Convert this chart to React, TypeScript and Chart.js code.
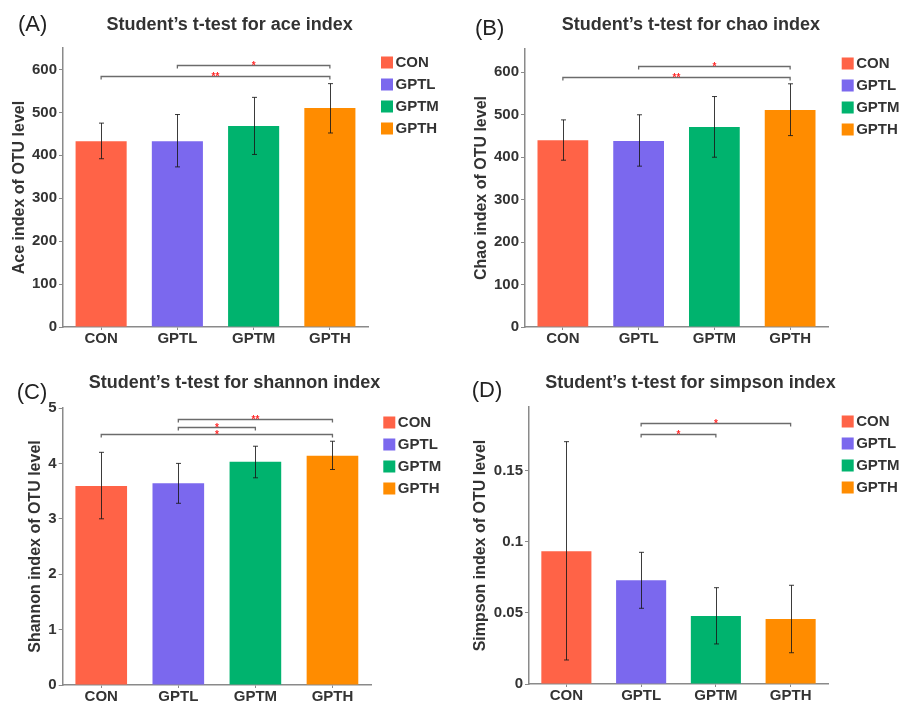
import React, { useEffect, useRef } from 'react';
import { Chart, registerables } from 'chart.js';

Chart.register(...registerables);

const FAMILY = '"Liberation Sans", Arial, Helvetica, sans-serif';
Chart.defaults.font.family = FAMILY;

// ---------- data ----------
const categories = ['CON', 'GPTL', 'GPTM', 'GPTH'];
const groupColors = ['#FF6347', '#7B68EE', '#00B36E', '#FF8C00'];

const aceMean = [433, 433, 468, 510];
const aceLow = [392, 373, 402, 452];
const aceHigh = [475, 495, 535, 567];
const aceSigFrom = ['GPTL', 'CON'];
const aceSigTo = ['GPTH', 'GPTH'];
const aceSigLevel = [610, 585];
const aceSigMark = ['*', '**'];

const chaoMean = [440, 438, 471, 511];
const chaoLow = [393, 379, 400, 451];
const chaoHigh = [488, 500, 543, 573];
const chaoSigFrom = ['GPTL', 'CON'];
const chaoSigTo = ['GPTH', 'GPTH'];
const chaoSigLevel = [616, 590];
const chaoSigMark = ['*', '**'];

const shannonMean = [3.59, 3.64, 4.03, 4.14];
const shannonLow = [3.0, 3.28, 3.74, 3.89];
const shannonHigh = [4.2, 4.0, 4.31, 4.4];
const shannonSigFrom = ['GPTL', 'GPTL', 'CON'];
const shannonSigTo = ['GPTH', 'GPTM', 'GPTH'];
const shannonSigLevel = [4.8, 4.66, 4.53];
const shannonSigMark = ['**', '*', '*'];

const simpsonMean = [0.0934, 0.073, 0.0479, 0.0458];
const simpsonLow = [0.0169, 0.0533, 0.0282, 0.022];
const simpsonHigh = [0.1706, 0.0927, 0.0678, 0.0695];
const simpsonSigFrom = ['GPTL', 'GPTL'];
const simpsonSigTo = ['GPTH', 'GPTM'];
const simpsonSigLevel = [0.1836, 0.1758];
const simpsonSigMark = ['*', '*'];

const aceTicks = { max: 650, step: 100 };
const chaoTicks = { max: 655, step: 100 };
const shannonTicks = { max: 5, step: 1 };
const simpsonTicks = { max: 0.195, step: 0.05 };

// ---------- layout (pixel targets, separate from data) ----------
type Box = {
  left: number; top: number; height: number;
  chartLeft: number; chartRight: number; chartTop: number; chartBottom: number;
  legendX: number; titleX: number; titleY: number; yTitleX: number;
  labelX: number; labelY: number;
};

type Spec = {
  title: string; yTitle: string; label: string;
  mean: number[]; low: number[]; high: number[];
  sigFrom: string[]; sigTo: string[]; sigLevel: number[]; sigMark: string[];
  ticks: { max: number; step: number };
  box: Box;
};

const panels: Spec[] = [
  {
    title: 'Student\u2019s t-test for ace index', yTitle: 'Ace index of OTU level', label: '(A)',
    mean: aceMean, low: aceLow, high: aceHigh,
    sigFrom: aceSigFrom, sigTo: aceSigTo, sigLevel: aceSigLevel, sigMark: aceSigMark,
    ticks: aceTicks,
    box: { left: 0, top: 0, height: 352, chartLeft: 63, chartRight: 368, chartTop: 48, chartBottom: 327,
      legendX: 381, titleX: 231.7, titleY: 25, yTitleX: 20, labelX: 18, labelY: 24.5 },
  },
  {
    title: 'Student\u2019s t-test for chao index', yTitle: 'Chao index of OTU level', label: '(B)',
    mean: chaoMean, low: chaoLow, high: chaoHigh,
    sigFrom: chaoSigFrom, sigTo: chaoSigTo, sigLevel: chaoSigLevel, sigMark: chaoSigMark,
    ticks: chaoTicks,
    box: { left: 451, top: 0, height: 352, chartLeft: 74, chartRight: 377, chartTop: 49, chartBottom: 327,
      legendX: 390.7, titleX: 241.5, titleY: 25, yTitleX: 30.7, labelX: 24, labelY: 29 },
  },
  {
    title: 'Student\u2019s t-test for shannon index', yTitle: 'Shannon index of OTU level', label: '(C)',
    mean: shannonMean, low: shannonLow, high: shannonHigh,
    sigFrom: shannonSigFrom, sigTo: shannonSigTo, sigLevel: shannonSigLevel, sigMark: shannonSigMark,
    ticks: shannonTicks,
    box: { left: 0, top: 352, height: 352, chartLeft: 62.7, chartRight: 371, chartTop: 56, chartBottom: 333,
      legendX: 383.3, titleX: 234.5, titleY: 31.3, yTitleX: 35.7, labelX: 16.7, labelY: 41.3 },
  },
  {
    title: 'Student\u2019s t-test for simpson index', yTitle: 'Simpson index of OTU level', label: '(D)',
    mean: simpsonMean, low: simpsonLow, high: simpsonHigh,
    sigFrom: simpsonSigFrom, sigTo: simpsonSigTo, sigLevel: simpsonSigLevel, sigMark: simpsonSigMark,
    ticks: simpsonTicks,
    box: { left: 451, top: 352, height: 352, chartLeft: 78, chartRight: 377, chartTop: 55, chartBottom: 332,
      legendX: 390.7, titleX: 241.7, titleY: 31.3, yTitleX: 30, labelX: 20.7, labelY: 38.5 },
  },
];

function makeDecor(spec: Spec) {
  return {
    id: 'decor',
    afterDatasetsDraw(chart: any) {
      const { ctx } = chart;
      const x = chart.scales.x;
      const y = chart.scales.y;
      ctx.save();
      // error bars
      ctx.strokeStyle = 'rgba(25,25,25,0.85)';
      ctx.lineWidth = 1;
      spec.low.forEach((lo, i) => {
        const px = Math.round(x.getPixelForValue(i)) + 0.5;
        const y1 = y.getPixelForValue(lo);
        const y2 = y.getPixelForValue(spec.high[i]);
        ctx.beginPath();
        ctx.moveTo(px, y1); ctx.lineTo(px, y2);
        ctx.moveTo(px - 2.5, y1); ctx.lineTo(px + 2.5, y1);
        ctx.moveTo(px - 2.5, y2); ctx.lineTo(px + 2.5, y2);
        ctx.stroke();
      });
      // significance brackets
      spec.sigLevel.forEach((lvl, k) => {
        const xa = x.getPixelForValue(categories.indexOf(spec.sigFrom[k]));
        const xb = x.getPixelForValue(categories.indexOf(spec.sigTo[k]));
        const py = Math.round(y.getPixelForValue(lvl)) + 0.5;
        ctx.strokeStyle = '#6b6b6b';
        ctx.lineWidth = 1.3;
        ctx.beginPath();
        ctx.moveTo(xa, py + 3); ctx.lineTo(xa, py); ctx.lineTo(xb, py); ctx.lineTo(xb, py + 3);
        ctx.stroke();
        ctx.fillStyle = '#FF2A2A';
        ctx.font = `bold 10px ${FAMILY}`;
        ctx.textAlign = 'center';
        ctx.textBaseline = 'alphabetic';
        ctx.fillText(spec.sigMark[k], (xa + xb) / 2, py + 3.5);
      });
      ctx.restore();
    },
    afterDraw(chart: any) {
      const { ctx } = chart;
      ctx.save();
      ctx.fillStyle = '#222';
      ctx.font = `22px ${FAMILY}`;
      ctx.textAlign = 'left';
      ctx.textBaseline = 'middle';
      ctx.fillText(spec.label, spec.box.labelX, spec.box.labelY);
      ctx.restore();
    },
  };
}

function Panel({ spec }: { spec: Spec }) {
  const ref = useRef<HTMLCanvasElement>(null);
  useEffect(() => {
    const canvas = ref.current!;
    const b = spec.box;
    const m = document.createElement('canvas').getContext('2d')!;
    m.font = `bold 15px ${FAMILY}`;
    const maxText = Math.max(...categories.map((c) => m.measureText(c).width));
    const LP = 7, BOXW = 2, SQ = 12, FS = 15;
    // legend square is drawn centred at cursor + BOXW/2 with side SQ
    const sqOffset = SQ / 2 - BOXW / 2;
    const legendW = LP + BOXW + FS / 2 + maxText + 10;
    const legendLeft = b.legendX + sqOffset - LP;
    const R = legendLeft + legendW;
    const W = Math.ceil(R) + 2;
    const H = b.height;
    const pr = W - R;
    const gapW = legendLeft - b.chartRight;
    const pl = Math.max(0, Math.min(2 * b.titleX - R, b.yTitleX - 9.6));
    const yW = b.chartLeft - pl;
    const yTitlePad = Math.max(0, b.yTitleX - 9.6 - pl);
    const titlePadTop = b.titleY - 10.8;
    const titlePadBottom = b.chartTop - b.titleY - 10.8;
    const xH = H - b.chartBottom;

    canvas.width = W;
    canvas.height = H;
    canvas.style.width = W + 'px';
    canvas.style.height = H + 'px';

    const chart = new Chart(canvas, {
      type: 'bar',
      data: {
        labels: categories,
        datasets: [{
          label: spec.yTitle,
          data: spec.mean,
          backgroundColor: groupColors,
          borderWidth: 0,
          barPercentage: 0.67,
          categoryPercentage: 1,
        }],
      },
      options: {
        animation: false,
        responsive: false,
        devicePixelRatio: 1,
        layout: { padding: { left: pl, right: pr, top: 0, bottom: 0 } },
        plugins: {
          title: {
            display: true, text: spec.title, color: '#333',
            font: { size: 18, weight: 'bold' },
            padding: { top: titlePadTop, bottom: titlePadBottom },
          },
          legend: {
            display: true, position: 'right', align: 'start', fullSize: false,
            onClick: () => {},
            labels: {
              usePointStyle: true, pointStyle: 'rect',
              boxWidth: BOXW, boxHeight: SQ, padding: LP, color: '#333',
              font: { size: FS, weight: 'bold' },
              generateLabels: () => categories.map((c, i) => ({
                text: c, fillStyle: groupColors[i], strokeStyle: groupColors[i],
                lineWidth: 0, hidden: false, index: i, fontColor: '#333', pointStyle: 'rect',
              })),
            },
          },
          tooltip: { enabled: false },
        },
        scales: {
          x: {
            type: 'category', offset: true,
            grid: { display: true, drawOnChartArea: false, drawTicks: true, tickLength: 3, offset: false, color: '#8a8a8a' },
            border: { display: true, color: '#8a8a8a', width: 1.5 },
            ticks: { color: '#333', font: { size: 15, weight: 'bold', lineHeight: 1 }, padding: 1, maxRotation: 0, autoSkip: false },
            afterFit: (s: any) => { s.height = xH; },
          },
          y: {
            type: 'linear', min: 0, max: spec.ticks.max,
            grid: { display: true, drawOnChartArea: false, drawTicks: true, tickLength: 4, color: '#8a8a8a' },
            border: { display: true, color: '#8a8a8a', width: 1.5 },
            ticks: {
              stepSize: spec.ticks.step, includeBounds: false, color: '#333', padding: 2,
              font: { size: 15, weight: 'bold' },
              callback: (v: any) => String(Number(Number(v).toFixed(4))),
            },
            title: {
              display: true, text: spec.yTitle, color: '#333',
              font: { size: 16, weight: 'bold' },
              padding: { top: yTitlePad, bottom: 0 },
            },
            afterFit: (s: any) => { s.width = yW; },
          },
          gap: {
            type: 'linear', position: 'right', display: true,
            grid: { display: false, drawTicks: false },
            border: { display: false },
            ticks: { display: false },
            afterFit: (s: any) => { s.width = gapW; },
          },
        },
      } as any,
      plugins: [makeDecor(spec)],
    });
    return () => chart.destroy();
  }, [spec]);

  return (
    <div style={{ position: 'absolute', left: spec.box.left, top: spec.box.top }}>
      <canvas ref={ref} />
    </div>
  );
}

export default function App() {
  return (
    <div style={{ position: 'fixed', left: 0, top: 0, width: 903, height: 704, overflow: 'hidden', background: '#fff' }}>
      {panels.map((p) => <Panel key={p.label} spec={p} />)}
    </div>
  );
}
